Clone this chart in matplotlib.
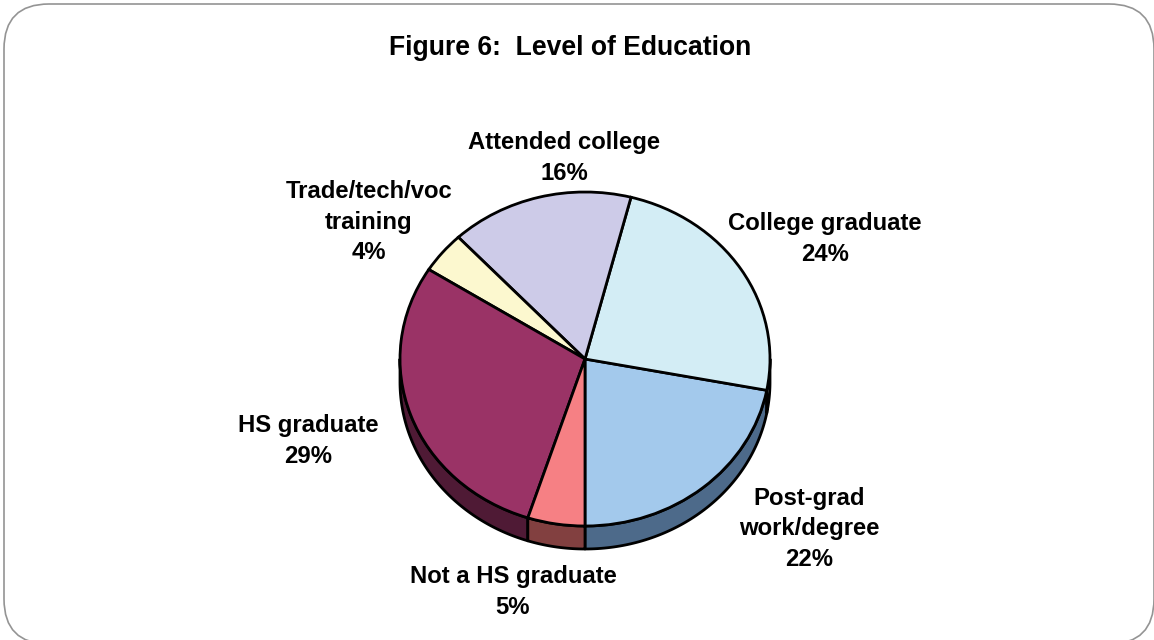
import numpy as np
import matplotlib
matplotlib.use("Agg")
import matplotlib.pyplot as plt
from matplotlib.patches import FancyBboxPatch, Polygon

title = "Figure 6:  Level of Education"
categories = ["Post-grad\nwork/degree", "College graduate", "Attended college",
              "Trade/tech/voc\ntraining", "HS graduate", "Not a HS graduate"]
values = [22, 24, 16, 4, 29, 5]
top_colors = ["#A3C9EC", "#D3EDF5", "#CDCBE8", "#FCF8CF", "#9A3366", "#F68084"]
side_colors = ["#4D6A8A", "#D3EDF5", "#CDCBE8", "#FCF8CF", "#4F1A35", "#824040"]
label_px = [(809, 529), (825, 239), (564, 158), (369, 222), (308, 441), (513, 592)]

W, H = 1154, 640
plt.rcParams["font.family"] = ["Liberation Sans", "DejaVu Sans"]
fig = plt.figure(figsize=(W / 100, H / 100), dpi=100, facecolor="white")

# Rounded frame, in pixels
bg = fig.add_axes([0, 0, 1, 1])
bg.set_xlim(0, W); bg.set_ylim(H, 0); bg.axis("off")
bg.add_patch(FancyBboxPatch((49, 49), 1060, 550, boxstyle="round,pad=45,rounding_size=45",
                            fc="white", ec="#949494", lw=1.2, clip_on=True))
bg.text(570, 48, title, ha="center", va="center", fontsize=19.1, fontweight="bold", color="black")
for text, pct, (x, y) in zip(categories, values, label_px):
    bg.text(x, y, f"{text}\n{pct}%", ha="center", va="center", fontsize=17.2,
            fontweight="bold", color="black", linespacing=1.41)

# Pie (squashed ellipse), radius 1 = ellipse extents
left, right, top, bottom = 400, 770, 192, 526
ax = fig.add_axes([left / W, 1 - bottom / H, (right - left) / W, (bottom - top) / H])
ax.patch.set_visible(False)
depth = 23 / ((bottom - top) / 2)

edges = -90 + np.concatenate([[0], np.cumsum(values)]) * 3.6
for a, b, col in zip(edges[:-1], edges[1:], side_colors):
    # visible front rim only: angles 180..360
    lo2, hi2 = a, b
    if hi2 > 180 and lo2 < 180:
        lo2 = 180
    if lo2 >= 0 and hi2 <= 180:
        continue
    if lo2 < 0 and hi2 > 0:
        hi2 = 0
    t = np.radians(np.linspace(lo2, hi2, 80))
    xs, ys = np.cos(t), np.sin(t)
    pts = np.r_[np.c_[xs, ys], np.c_[xs, ys - depth][::-1]]
    ax.add_patch(Polygon(pts, closed=True, fc=col, ec="black", lw=2.0, joinstyle="round", clip_on=False))

ax.pie(values, colors=top_colors, startangle=-90, counterclock=True, radius=1,
       wedgeprops=dict(edgecolor="black", linewidth=2.0), frame=False)
ax.set_aspect("auto")
ax.set_xlim(-1, 1); ax.set_ylim(-1, 1)
ax.axis("off")
for p in ax.patches:
    p.set_clip_on(False)

fig.savefig("out.png", dpi=100, facecolor="white")
